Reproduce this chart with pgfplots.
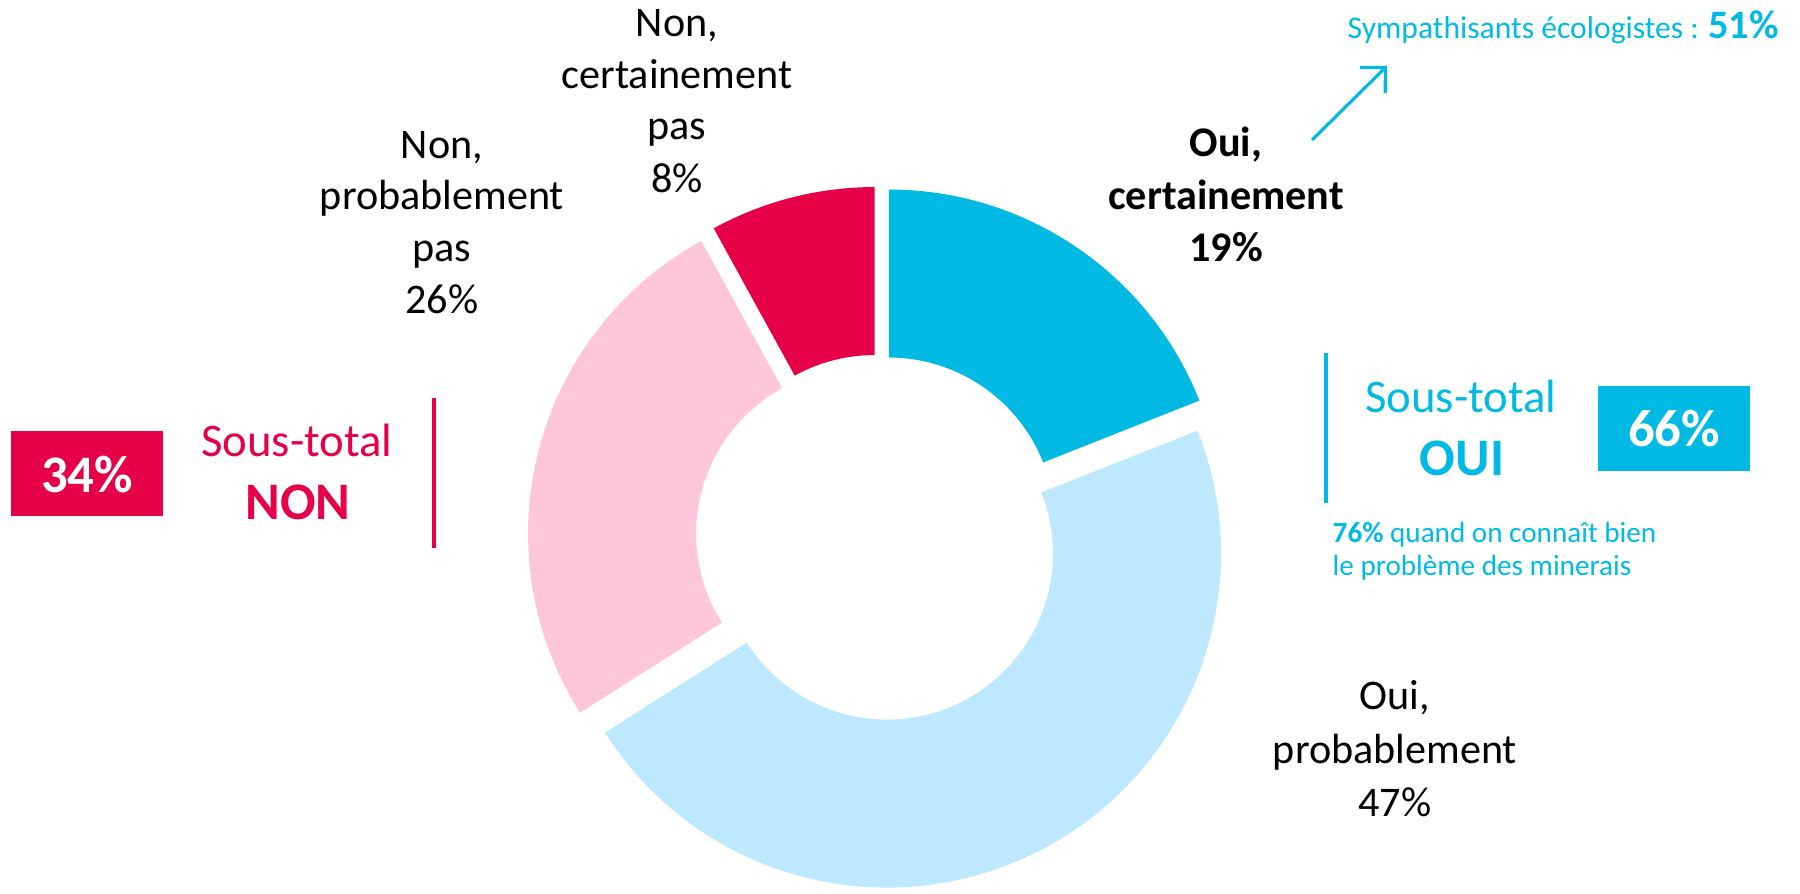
\documentclass[border=0pt]{standalone}
\usepackage{pgfplots}
\pgfplotsset{compat=1.18}
\usepackage{pgfplotstable}
\usetikzlibrary{arrows.meta}
\usepackage{fontspec}
\setmainfont{Carlito}
\definecolor{cOuiA}{RGB}{0,186,227}
\definecolor{cOuiB}{RGB}{189,232,253}
\definecolor{cNonB}{RGB}{255,197,216}
\definecolor{cNonA}{RGB}{229,0,72}

\pgfplotstableread{
value colour
19 cOuiA
47 cOuiB
26 cNonB
8 cNonA
}\slices

\newcommand{\lab}{\fontsize{12}{14.6}\selectfont}
\begin{document}
\begin{tikzpicture}
\begin{axis}[width=18cm, height=8.93cm, scale only axis,
  xmin=0, xmax=1800, ymin=0, ymax=893, hide axis, clip=false]
\coordinate (ll) at (axis cs:0,0);
\coordinate (ur) at (axis cs:1800,893);
\gdef\angstart{90}
\pgfplotsinvokeforeach{0,1,2,3}{
  \pgfplotstablegetelem{#1}{value}\of\slices \let\val\pgfplotsretval
  \pgfplotstablegetelem{#1}{colour}\of\slices \let\col\pgfplotsretval
  \pgfmathsetmacro\angend{\angstart-3.6*\val}
  \pgfmathsetmacro\midang{(\angstart+\angend)/2}
  \pgfmathsetmacro\cx{879+17.5*cos(\midang)}
  \pgfmathsetmacro\cy{355+17.5*sin(\midang)}
  \pgfmathsetmacro\xa{\cx+334*cos(\angstart)}
  \pgfmathsetmacro\ya{\cy+334*sin(\angstart)}
  \pgfmathsetmacro\xb{\cx+166*cos(\angend)}
  \pgfmathsetmacro\yb{\cy+166*sin(\angend)}
  \edef\temp{\noexpand\fill[\col] (axis cs:\xa,\ya) arc[start angle=\angstart, end angle=\angend, radius=3.34cm] -- (axis cs:\xb,\yb) arc[start angle=\angend, end angle=\angstart, radius=1.66cm] -- cycle;}
  \temp
  \xdef\angstart{\angend}
}
% slice labels
\node[anchor=base] at (axis cs:677,856) {\lab Non,};
\node[anchor=base] at (axis cs:677,804) {\lab certainement};
\node[anchor=base] at (axis cs:677,753) {\lab pas};
\node[anchor=base] at (axis cs:677,701) {\lab 8\%};
\node[anchor=base] at (axis cs:442,735) {\lab Non,};
\node[anchor=base] at (axis cs:442,684) {\lab probablement};
\node[anchor=base] at (axis cs:442,632) {\lab pas};
\node[anchor=base] at (axis cs:442,580) {\lab 26\%};
\node[anchor=base] at (axis cs:1226,736) {\lab\bfseries Oui,};
\node[anchor=base] at (axis cs:1226,684) {\lab\bfseries certainement};
\node[anchor=base] at (axis cs:1226,632) {\lab\bfseries 19\%};
\node[anchor=base] at (axis cs:1395,184) {\lab Oui,};
\node[anchor=base] at (axis cs:1395,130) {\lab probablement};
\node[anchor=base] at (axis cs:1395,77) {\lab 47\%};
% top right note
\node[anchor=base west, inner sep=0pt, text=cOuiA] at (axis cs:1347,854) {\fontsize{9}{11}\selectfont Sympathisants écologistes : {\fontsize{11.5}{13}\selectfont\bfseries 51\%}};
\draw[cOuiA, line width=0.9pt, -{Straight Barb[length=1.8mm, width=3.6mm]}] (axis cs:1312,753) -- (axis cs:1387,827);
% OUI block
\draw[cOuiA, line width=0.9pt] (axis cs:1326,540) -- (axis cs:1326,390);
\node[anchor=base, text=cOuiA] at (axis cs:1461,481) {\fontsize{13.3}{16}\selectfont Sous-total};
\node[anchor=base, text=cOuiA] at (axis cs:1462,418) {\fontsize{15}{18}\selectfont\bfseries OUI};
\fill[cOuiA] (axis cs:1598,422) rectangle (axis cs:1750,507);
\node[anchor=base, text=white] at (axis cs:1674,447) {\fontsize{15}{18}\selectfont\bfseries 66\%};
\node[anchor=base west, inner sep=0pt, text=cOuiA] at (axis cs:1332,351) {\fontsize{8.3}{10}\selectfont\textbf{76\%} quand on connaît bien};
\node[anchor=base west, inner sep=0pt, text=cOuiA] at (axis cs:1332,318) {\fontsize{8.3}{10}\selectfont le problème des minerais};
% NON block
\fill[cNonA] (axis cs:11,377) rectangle (axis cs:163,462);
\node[anchor=base, text=white] at (axis cs:87,401) {\fontsize{15}{18}\selectfont\bfseries 34\%};
\node[anchor=base, text=cNonA] at (axis cs:297,437) {\fontsize{13.3}{16}\selectfont Sous-total};
\node[anchor=base, text=cNonA] at (axis cs:298,374) {\fontsize{15}{18}\selectfont\bfseries NON};
\draw[cNonA, line width=0.9pt] (axis cs:434,495) -- (axis cs:434,345);
\end{axis}
\pgfresetboundingbox
\path[use as bounding box] (ll) rectangle (ur);
\end{tikzpicture}
\end{document}
